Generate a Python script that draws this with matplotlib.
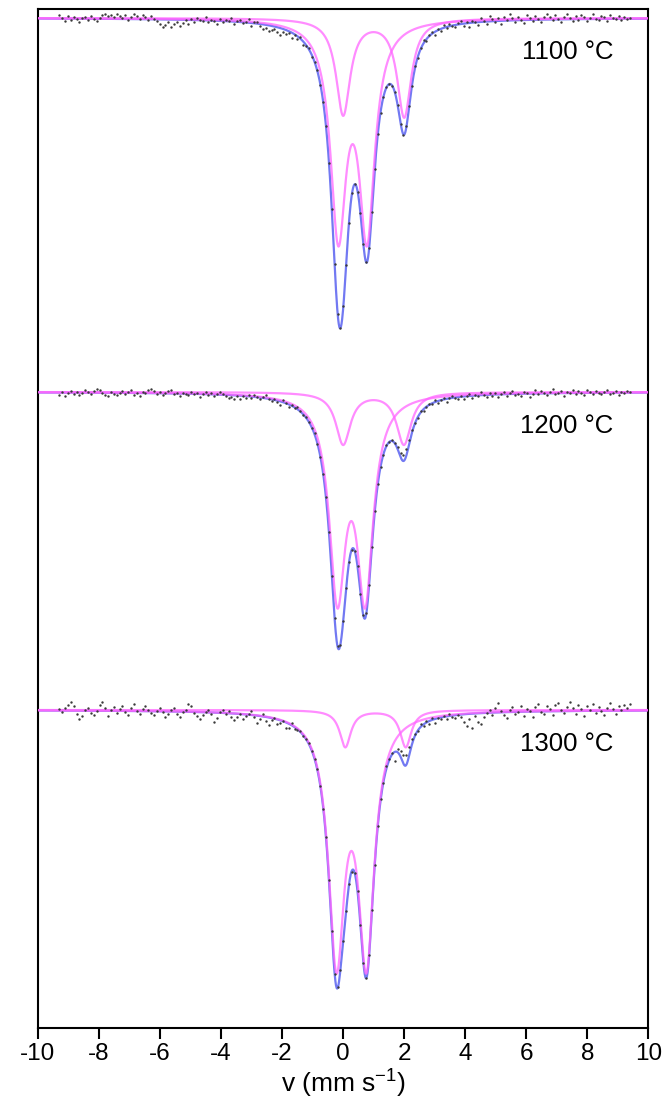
import numpy as np
import matplotlib.pyplot as plt

plt.rcParams['font.family'] = ['Liberation Sans', 'DejaVu Sans']
plt.rcParams['mathtext.fontset'] = 'custom'
plt.rcParams['mathtext.rm'] = 'Liberation Sans'
plt.rcParams['axes.unicode_minus'] = False

# -----------------------
# Data (arbitrary transmission units)
# -----------------------
labels = ['1100 °C', '1200 °C', '1300 °C']
baselines = [1010, 636, 318]

# fitted lines per spectrum: (centre mm/s, depth, half width)
fe3_lines = [
    [(-0.16, 208, 0.31), (0.78, 208, 0.31)],
    [(-0.19, 195, 0.32), (0.72, 195, 0.32)],
    [(-0.22, 241, 0.315), (0.76, 241, 0.315)],
]
fe2_lines = [
    [(0.00, 96, 0.28), (2.00, 98, 0.28)],
    [(0.00, 52, 0.29), (1.99, 52, 0.29)],
    [(0.07, 37, 0.22), (2.05, 37, 0.22)],
]

# measured points: deviation from the fit, channel by channel
res_1100 = [
    4, 1, -2, 3, -1, 2, 0, -3, 1, 2,
    -1, 3, 0, -2, 1, 4, 5, 3, 4, 2,
    5, 3, 1, 4, -1, 2, 5, 3, 0, 4,
    2, -1, 3, 0, -2, -5, -8, -6, -3, -7,
    -4, -2, -6, -3, 0, -4, 1, -2, 2, 0,
    -1, 3, -2, 1, 0, -3, 2, -1, 1, 0,
    3, -2, 1, 2, -1, 0, 4, -3, 1, 2,
    -2, -5, -3, -6, -4, -2, -5, -7, -3, -4,
    -2, -5, -1, -3, 2, -4, -1, 1, -2, 0,
    1, -1, 0, 1, -1, 0, 1, -1, 0, 1,
    0, -1, 1, 0, -1, 1, 0, 0, 1, -1,
    0, 1, -1, 0, 1, 0, -1, 0, 1, -1,
    0, 1, 0, -1, 2, -1, 1, 3, -2, 1,
    2, -3, 1, -2, 3, -1, 2, 0, -2, 1,
    3, -2, 1, -4, 2, 0, -3, 4, 1, -2,
    5, 2, -1, 3, -3, 4, 1, 6, 2, -2,
    3, 0, -3, 5, 2, -1, 4, 1, -2, 3,
    6, 2, -1, 4, 0, -3, 2, 5, 1, -2,
    3, -1, 4, 2, -2, 1, 5, 0, -1, 3,
    2, -2, 4, 1, 0, 3, -1, 2, 0, 1,
]
res_1200 = [
    -2, 1, -3, 0, 2, -1, 1, -2, 0, 3,
    1, -1, 2, 4, 3, 0, -2, -3, 1, -1,
    -2, 0, 2, -1, 1, 3, -2, 0, -3, 1,
    0, 3, 4, 2, -1, 1, -2, 0, 2, 3,
    -1, 0, -2, 1, 0, -1, 2, 0, 1, -3,
    0, 2, -1, 1, -2, 0, 3, 1, -1, -3,
    -2, -4, -1, -3, 0, -2, 1, -1, 2, 0,
    -1, 1, 3, 0, -2, 1, -1, -4, 2, 0,
    -3, 1, -1, 2, 0, -1, 1, 0, -1, 1,
    0, -1, 0, 1, 0, -1, 1, 0, 0, -1,
    1, 0, -1, 0, 1, -1, 0, 1, 0, -1,
    0, 1, 0, -1, 1, 0, 1, 0, 2, 4,
    6, 6, 4, 2, 0, -1, 1, -2, 0, 1,
    -1, 2, -2, 0, 1, -3, 0, 2, -1, -2,
    1, -3, 0, 2, -2, 1, -1, 3, 0, -2,
    2, -1, 1, -3, 0, 2, -2, 1, 3, -1,
    0, -2, 2, 1, -3, 0, 3, -1, 2, 0,
    -2, 1, 4, -1, 0, 2, -3, 1, 0, 3,
    -1, 2, 0, -2, 3, 1, -1, 2, 0, -1,
    1, 3, -1, 0, 2, -2, 1, 0, 2, 1,
]
res_1300 = [
    2, -1, 3, 6, 9, 5, -3, -8, -5, 1,
    3, -2, -4, 0, 6, 9, 3, -5, 1, 4,
    -2, 2, 5, -1, -4, 3, 7, 0, -3, 2,
    5, 1, -2, -4, 0, 3, -1, -6, -3, 1,
    4, -2, -5, 0, 2, 8, 6, -1, -4, -7,
    -3, 0, 2, -2, -9, -5, 1, 3, -1, 2,
    -4, -6, -3, 0, -5, -2, 1, 4, -2, -7,
    -3, 2, -4, -8, -2, 1, -5, -3, 0, -6,
    -4, 2, -2, -1, 1, -1, 0, 1, -1, 0,
    1, 0, -1, 1, 0, -1, 0, 1, 0, -1,
    0, 1, -1, 0, 1, 0, -1, 0, 1, 0,
    -1, 1, 2, -1, 3, 1, 2, -9, 3, 6,
    9, 10, 8, 5, 2, -1, 3, -2, 1, -3,
    2, -4, 0, -2, 1, -3, 2, -1, -3, 0,
    -2, -8, -12, -5, -14, -3, -9, -11, -4, 0,
    3, -2, 4, 9, 1, -3, -6, 2, 5, -2,
    0, 6, -4, 3, 1, -5, 4, 7, -1, -3,
    5, 2, -4, 6, 8, 1, -2, 4, 9, 3,
    -3, 6, 2, -5, 5, 1, 7, -2, 4, 0,
    -4, 3, 8, 2, -3, 5, 1, 6, 3, 7,
]
residuals = [res_1100, res_1200, res_1300]

v_min, v_max = -9.3, 9.4   # velocity range of the measured channels


def lorentz_sum(v, lines):
    out = np.zeros_like(v)
    for c, d, g in lines:
        out += d / (1 + ((v - c) / g) ** 2)
    return out


fig = plt.figure(figsize=(6.7, 11.13), dpi=100)
ax = fig.add_axes([0.0567, 0.0764, 0.911, 0.9155])

v_fit = np.linspace(-10, 10, 2000)
blue = '#7279f2'
pink = '#ff66ff'

for i in range(3):
    base = baselines[i]
    a = lorentz_sum(v_fit, fe3_lines[i])
    b = lorentz_sum(v_fit, fe2_lines[i])
    ax.plot(v_fit, base - a - b, color=blue, lw=1.6, zorder=2)
    ax.plot(v_fit, base - a, color=pink, lw=1.6, alpha=0.75, zorder=3)
    ax.plot(v_fit, base - b, color=pink, lw=1.6, alpha=0.75, zorder=3)

    res = np.array(residuals[i], dtype=float)
    v_pts = np.linspace(v_min, v_max, len(res))
    y_pts = base - lorentz_sum(v_pts, fe3_lines[i]) - lorentz_sum(v_pts, fe2_lines[i]) + res
    ax.scatter(v_pts, y_pts, s=3, color='#3a3a3a', lw=0, zorder=4)

    ax.text(8.85, base - 34, labels[i], ha='right', va='center', fontsize=18.5)

ax.set_xlim(-10, 10)
ax.set_ylim(0, 1019)
ax.set_xticks(np.arange(-10, 11, 2))
ax.set_yticks([])
ax.tick_params(axis='x', direction='out', length=8, width=1.5, labelsize=17.5, pad=3)
for s in ax.spines.values():
    s.set_linewidth(1.5)
ax.set_xlabel(r'v (mm $\mathregular{s^{-1}}$)', fontsize=19, labelpad=2)

fig.savefig('out.png', dpi=100)
